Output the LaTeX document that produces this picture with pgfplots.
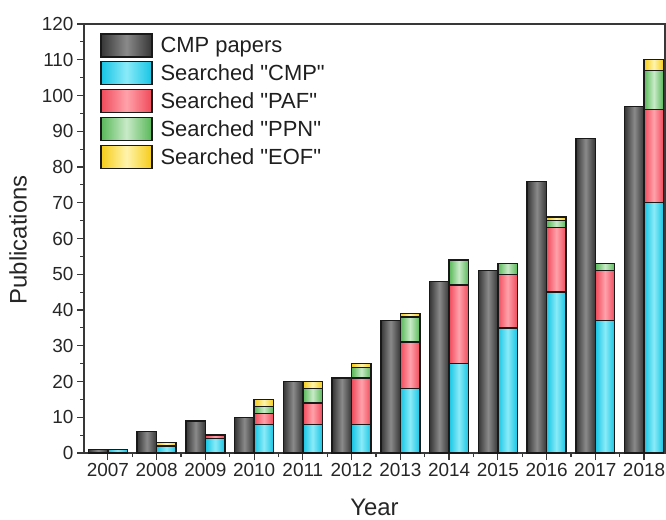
\documentclass[border=0pt]{standalone}
\usepackage{fontspec}
\setmainfont{Liberation Sans}[Ligatures=TeXOff]
\usepackage{pgfplots}
\pgfplotsset{compat=1.18}
\definecolor{blkE}{HTML}{363636}
\definecolor{blkM}{HTML}{8A8A8A}
\definecolor{cyE}{HTML}{16C4E4}
\definecolor{cyM}{HTML}{8AEBF8}
\definecolor{rdE}{HTML}{F04A5A}
\definecolor{rdM}{HTML}{FFA2AB}
\definecolor{grE}{HTML}{58B858}
\definecolor{grM}{HTML}{C8EAC8}
\definecolor{ylE}{HTML}{F5CC18}
\definecolor{ylM}{HTML}{FFF4AC}
\pgfplotsset{
  bstyle/.style={draw=black!90, line width=1.4pt, left color=#1E, right color=#1E, middle color=#1M},
}
% one bar per plot, so that each bar gets its own shading
% \cmp{year}{CMP papers}
\newcommand\cmp[2]{\addplot[bstyle=blk, bar shift=-0.2, forget plot] coordinates {(#1,#2)};}
% \stk{year}{top of CMP}{top of PAF}{top of PPN}{top of EOF} (cumulative heights of the stack)
\newcommand\stk[5]{%
  \addplot[bstyle=yl, bar shift=0.2, forget plot] coordinates {(#1,#5)};
  \addplot[bstyle=gr, bar shift=0.2, forget plot] coordinates {(#1,#4)};
  \addplot[bstyle=rd, bar shift=0.2, forget plot] coordinates {(#1,#3)};
  \addplot[bstyle=cy, bar shift=0.2, forget plot] coordinates {(#1,#2)};
}
\begin{document}
\begin{tikzpicture}
\useasboundingbox (-84bp,-67bp) rectangle (582bp,453bp);
\begin{axis}[
  scale only axis, width=581bp, height=429bp,
  xmin=2006.51, xmax=2018.43, ymin=0, ymax=120,
  ybar, bar width=0.4,
  xtick={2007,2008,...,2018},
  minor xtick={2007.5,2008.5,...,2017.5},
  ytick={0,10,...,120}, minor y tick num=1,
  tick align=outside, tick pos=left,
  major tick length=7bp, minor tick length=4bp,
  axis line style={line width=1.3pt, color=black!78},
  every tick/.style={line width=1.2pt, color=black!78},
  /pgf/number format/1000 sep={},
  /pgf/number format/assume math mode=true,
  tick label style={font=\fontsize{19}{22}\selectfont, color=black!85},
  xlabel={Year}, ylabel={Publications},
  label style={font=\fontsize{24}{28}\selectfont, color=black!85},
  xlabel style={at={(axis description cs:0.5,-0.126)}, anchor=center},
  ylabel style={at={(axis description cs:-0.1136,0.497)}, anchor=center},
  legend image code/.code={\draw[#1] (0bp,-11bp) rectangle (51bp,12bp);},
  legend style={draw=none, fill=none, at={(axis description cs:0.0275,0.979)}, anchor=north west,
    inner xsep=0pt, inner ysep=0pt, nodes={inner sep=0pt}, column sep=8bp, row sep=3.5bp,
    font=\fontsize{22}{24}\selectfont, text=black!88},
  legend cell align=left,
]
\cmp{2007}{1}
\cmp{2008}{6}
\cmp{2009}{9}
\cmp{2010}{10}
\cmp{2011}{20}
\cmp{2012}{21}
\cmp{2013}{37}
\cmp{2014}{48}
\cmp{2015}{51}
\cmp{2016}{76}
\cmp{2017}{88}
\cmp{2018}{97}
\stk{2007}{1}{1}{1}{1}
\stk{2008}{2}{2}{2}{3}
\stk{2009}{4}{5}{5}{5}
\stk{2010}{8}{11}{13}{15}
\stk{2011}{8}{14}{18}{20}
\stk{2012}{8}{21}{24}{25}
\stk{2013}{18}{31}{38}{39}
\stk{2014}{25}{47}{54}{54}
\stk{2015}{35}{50}{53}{53}
\stk{2016}{45}{63}{65}{66}
\stk{2017}{37}{51}{53}{53}
\stk{2018}{70}{96}{107}{110}
\addlegendimage{bstyle=blk}\addlegendentry{CMP papers}
\addlegendimage{bstyle=cy}\addlegendentry{Searched "CMP"}
\addlegendimage{bstyle=rd}\addlegendentry{Searched "PAF"}
\addlegendimage{bstyle=gr}\addlegendentry{Searched "PPN"}
\addlegendimage{bstyle=yl}\addlegendentry{Searched "EOF"}
\end{axis}
\end{tikzpicture}
\end{document}
